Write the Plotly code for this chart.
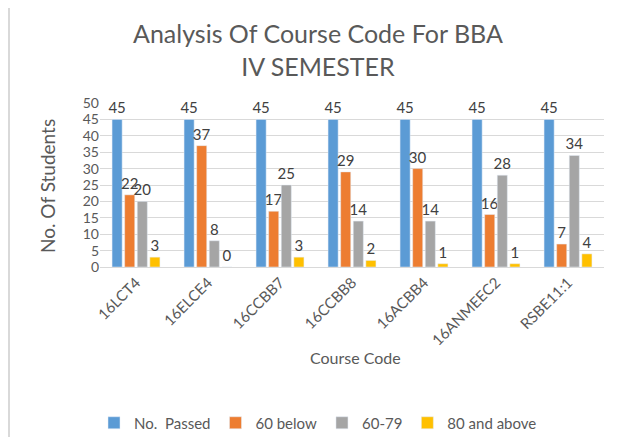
import plotly.graph_objects as go

courses = ["16LCT4", "16ELCE4", "16CCBB7", "16CCBB8", "16ACBB4", "16ANMEEC2", "RSBE11:1"]
no_passed = [45, 45, 45, 45, 45, 45, 45]
below_60 = [22, 37, 17, 29, 30, 16, 7]
range_60_79 = [20, 8, 25, 14, 14, 28, 34]
above_80 = [3, 0, 3, 2, 1, 1, 4]
y_ticks = [0, 5, 10, 15, 20, 25, 30, 35, 40, 45, 50]

series = [
    ("No.  Passed", no_passed, "#5B9BD5"),
    ("60 below", below_60, "#ED7D31"),
    ("60-79", range_60_79, "#A5A5A5"),
    ("80 and above", above_80, "#FFC000"),
]

FONT = "Lato, 'Open Sans', sans-serif"
fig = go.Figure()
for name, vals, col in series:
    fig.add_trace(go.Bar(
        x=courses, y=vals, name=name, marker_color=col,
        text=[str(v) for v in vals], textposition="outside",
        textfont=dict(size=15, color="#404040", family=FONT),
        cliponaxis=False,
    ))

# page body has an 8px margin: work in screenshot pixels, offset by 8
OFF = 8
W, H = 619 - 2 * OFF, 445 - 2 * OFF
L, R, T, B = 100 - OFF, W - (604 - OFF), 103 - OFF, H - (267 - OFF)
pw, ph = W - L - R, H - T - B

def px(x):
    return (x - OFF - L) / pw

def py(y):
    return (H - B - (y - OFF)) / ph

fig.update_layout(
    width=W, height=H,
    margin=dict(l=L, r=R, t=T, b=B, autoexpand=False),
    paper_bgcolor="white", plot_bgcolor="white",
    barmode="group", bargap=0.3, bargroupgap=0.2,
    uniformtext=dict(minsize=15, mode="show"),
    font=dict(family=FONT, color="#595959"),
    showlegend=True,
    legend=dict(orientation="h", x=px(318), xanchor="center", y=py(423), yanchor="middle",
                font=dict(size=15, color="#595959"), traceorder="normal",
                itemwidth=30),
    xaxis=dict(tickangle=-45, tickfont=dict(size=15, color="#595959"), showgrid=False,
               showline=True, linecolor="#d9d9d9", ticks="", automargin=False),
    yaxis=dict(range=[0, 50], tickvals=y_ticks, tickfont=dict(size=14, color="#595959"),
               showgrid=True, gridcolor="#d9d9d9", zeroline=False, showline=False, ticks="",
               automargin=False),
    annotations=[
        dict(text="Analysis Of Course Code For BBA<br>IV SEMESTER", x=px(318), y=py(50),
             xref="paper", yref="paper", showarrow=False, font=dict(size=25, color="#595959"),
             xanchor="center", yanchor="middle"),
        dict(text="No. Of Students", x=px(47), y=py(186), xref="paper", yref="paper",
             showarrow=False, textangle=-90, font=dict(size=19, color="#595959"),
             xanchor="center", yanchor="middle"),
        dict(text="Course Code", x=px(355), y=py(357), xref="paper", yref="paper",
             showarrow=False, font=dict(size=16, color="#595959"),
             xanchor="center", yanchor="middle"),
    ],
    shapes=[
        dict(type="line", xref="paper", yref="paper", x0=px(9), x1=px(9), y0=py(4), y1=py(437),
             line=dict(color="#d9d9d9", width=2)),
        dict(type="line", xref="paper", yref="paper", x0=px(9), x1=px(611), y0=py(4), y1=py(4),
             line=dict(color="#d9d9d9", width=2)),
    ],
)

fig.write_html("out.html")
